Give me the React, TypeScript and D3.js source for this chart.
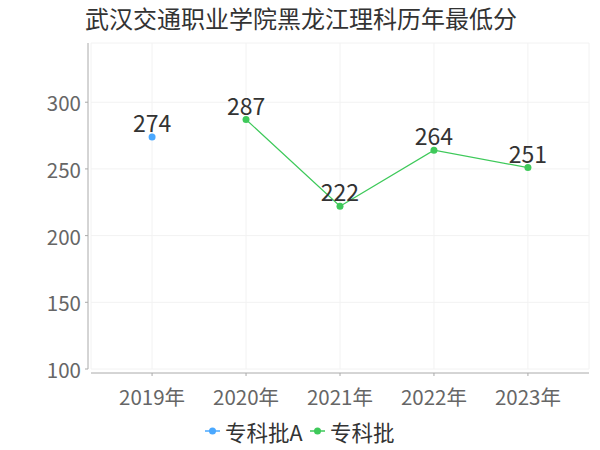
import React from 'react';
import * as d3 from 'd3';

const title = '武汉交通职业学院黑龙江理科历年最低分';
const years = ['2019年', '2020年', '2021年', '2022年', '2023年'];
const seriesA = [274, null, null, null, null];
const seriesB = [null, 287, 222, 264, 251];
const yTicks = [100, 150, 200, 250, 300];
const legendNames = ['专科批A', '专科批'];

const W = 600;
const H = 450;
const left = 91;
const right = 589;
const top = 43;
const bottom = 369;
const font = '"Noto Sans CJK SC", "Noto Sans", sans-serif';
const blue = '#4aa8ff';
const green = '#3ec95a';

const App: React.FC = () => {
  const x = d3.scalePoint<string>().domain(years).range([left, right]).padding(0.65);
  const y = d3.scaleLinear().domain([100, 344.4]).range([bottom, top]);

  const ptsA = years
    .map((yr, i) => ({ yr, v: seriesA[i] }))
    .filter((d) => d.v != null) as { yr: string; v: number }[];
  const ptsB = years
    .map((yr, i) => ({ yr, v: seriesB[i] }))
    .filter((d) => d.v != null) as { yr: string; v: number }[];

  const line = d3
    .line<{ yr: string; v: number }>()
    .x((d) => x(d.yr)!)
    .y((d) => y(d.v));

  const series = [
    { pts: ptsA, color: blue },
    { pts: ptsB, color: green },
  ];

  return (
    <svg width={W} height={H} style={{ display: 'block', position: 'absolute', left: 0, top: 0 }}>
      <rect width={W} height={H} fill="#fff" />
      <text x={301} y={28} textAnchor="middle" fontFamily={font} fontSize={24} fill="#333">
        {title}
      </text>

      {/* grid */}
      {yTicks.concat([344.4]).map((t) => (
        <line key={'gy' + t} x1={left} x2={right} y1={y(t)} y2={y(t)} stroke="#f2f2f2" />
      ))}
      {years.map((yr) => (
        <line key={'gx' + yr} x1={x(yr)} x2={x(yr)} y1={top} y2={bottom} stroke="#f2f2f2" />
      ))}
      <line x1={left} x2={left} y1={top} y2={bottom} stroke="#f2f2f2" />
      <line x1={right} x2={right} y1={top} y2={bottom} stroke="#f2f2f2" />

      {/* y axis */}
      <line x1={88} x2={88} y1={top} y2={bottom} stroke="#aaa" />
      {yTicks.map((t) => (
        <g key={'ty' + t}>
          <line x1={85} x2={88} y1={y(t)} y2={y(t)} stroke="#aaa" />
          <text
            x={81}
            y={y(t)}
            textAnchor="end"
            dominantBaseline="central"
            fontFamily={font}
            fontSize={20.5}
            fill="#666"
          >
            {t}
          </text>
        </g>
      ))}

      {/* x axis */}
      <line x1={left} x2={right} y1={373} y2={373} stroke="#aaa" />
      {years.map((yr) => (
        <g key={'tx' + yr}>
          <line x1={x(yr)} x2={x(yr)} y1={373} y2={376} stroke="#aaa" />
          <text
            x={x(yr)}
            y={396}
            textAnchor="middle"
            dominantBaseline="central"
            fontFamily={font}
            fontSize={20.5}
            fill="#666"
          >
            {yr}
          </text>
        </g>
      ))}

      {/* lines, points, labels */}
      {series.map((s, si) => (
        <g key={'s' + si}>
          {s.pts.length > 1 && <path d={line(s.pts)!} fill="none" stroke={s.color} strokeWidth={1.2} />}
          {s.pts.map((d) => (
            <circle key={d.yr} cx={x(d.yr)} cy={y(d.v)} r={3.5} fill={s.color} />
          ))}
          {s.pts.map((d) => (
            <text
              key={'l' + d.yr}
              x={x(d.yr)}
              y={y(d.v) - 5}
              textAnchor="middle"
              fontFamily={font}
              fontSize={23}
              fill="#333"
            >
              {d.v}
            </text>
          ))}
        </g>
      ))}

      {/* legend */}
      {[
        { name: legendNames[0], color: blue, x0: 205 },
        { name: legendNames[1], color: green, x0: 310 },
      ].map((l) => (
        <g key={l.name}>
          <line x1={l.x0} x2={l.x0 + 15} y1={431} y2={431} stroke={l.color} strokeWidth={1.5} />
          <circle cx={l.x0 + 7.5} cy={431} r={3.5} fill={l.color} />
          <text
            x={l.x0 + 20}
            y={431}
            dominantBaseline="central"
            fontFamily={font}
            fontSize={21.5}
            fill="#333"
          >
            {l.name}
          </text>
        </g>
      ))}
    </svg>
  );
};

export default App;
